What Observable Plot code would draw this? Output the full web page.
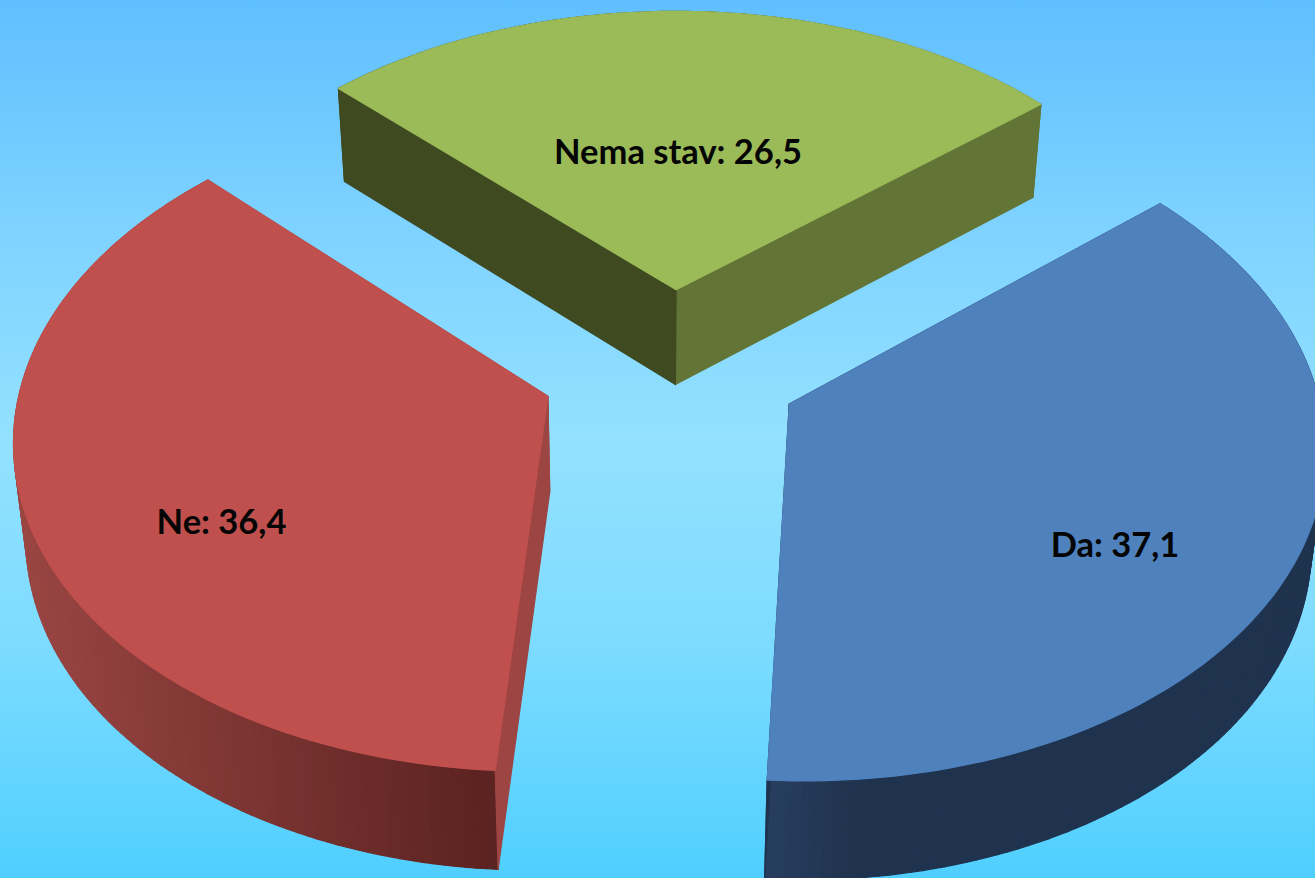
<!DOCTYPE html>
<html>
<head>
<meta charset="utf-8">
<script src="https://cdn.jsdelivr.net/npm/d3@7"></script>
<script src="https://cdn.jsdelivr.net/npm/@observablehq/plot@0.6"></script>
<style>
html,body{margin:0;padding:0;overflow:hidden;background:#60bfff}
svg{display:block}
</style>
</head>
<body>
<div id="chart"></div>
<script>
// Data
const categories = ["Da", "Ne", "Nema stav"];
const values = [37.1, 36.4, 26.5];

// Styling
const topColors = ["#4f81bd", "#c0504d", "#9bbb59"];
const startWallColors = ["#1f334e", "#9c4543", "#3f4a21"];
const endWallColors = ["#1f334e", "#9c4543", "#637536"];
const arcStops = [
  [[767, "#283e5e"], [860, "#1f334e"]],
  [[13, "#9a4643"], [497, "#5a2220"]],
  [[339, "#3f4a21"], [1041, "#637536"]]
];
const labelAnchors = [[1114.5, 545], [221, 522], [677.5, 152]];

// 3D pie camera model
const W = 1315, H = 878;
const cam = {x0: 670.6, y0: 367, a: 524, b: 326, p: 0.112, explode: 0.245};
const sliceNudgeU = [0.004, -0.004, 0];
const depth = {sx: 0.98, ox: 12.8, sy: 1.0088, oy: 92.2};
const project = (u, v) => {
  const d = 1 + cam.p * v;
  return [cam.x0 + cam.a * u / d, cam.y0 - cam.b * v / d];
};
const lower = ([x, y]) => [depth.sx * x + depth.ox, depth.sy * y + depth.oy];

const arcs = d3.pie().sort(null).startAngle(50 * Math.PI / 180).endAngle((50 + 360) * Math.PI / 180)(values);
const polygons = [];
const pushPoly = (id, color, pts) => pts.forEach(([x, y]) => polygons.push({id, color, x, y}));

arcs.forEach((arc, i) => {
  const mid = (arc.startAngle + arc.endAngle) / 2;
  const cu = cam.explode * Math.sin(mid) + sliceNudgeU[i], cv = cam.explode * Math.cos(mid);
  const n = 120;
  const rim = d3.range(n + 1).map(k => {
    const t = arc.startAngle + (arc.endAngle - arc.startAngle) * k / n;
    return project(cu + Math.sin(t), cv + Math.cos(t));
  });
  const apex = project(cu, cv);
  const [s0, s1] = arcStops[i];
  const shade = d3.scaleLinear().domain([s0[0], s1[0]]).range([s0[1], s1[1]]).clamp(true);
  // outer wall, one thin quad per step so the shading follows the rim
  for (let k = 0; k < n; k++) {
    const a = rim[k], b = rim[k + 1];
    pushPoly(`${i}-arc-${k}`, d3.color(shade((a[0] + b[0]) / 2)).formatHex(), [a, b, lower(b), lower(a)]);
  }
  // radial walls
  const first = rim[0], last = rim[n];
  pushPoly(`${i}-end`, endWallColors[i], [apex, last, lower(last), lower(apex)]);
  pushPoly(`${i}-start`, startWallColors[i], [apex, first, lower(first), lower(apex)]);
  // top face
  pushPoly(`${i}-top`, topColors[i], [apex, ...rim]);
});

const labels = categories.map((name, i) => ({
  text: `${name}: ${String(values[i]).replace(".", ",")}`,
  x: labelAnchors[i][0],
  y: labelAnchors[i][1]
}));

const plot = Plot.plot({
  width: W,
  height: H,
  margin: 0,
  x: {domain: [0, W], range: [0, W], axis: null},
  y: {domain: [0, H], range: [0, H], axis: null},
  color: {type: "identity"},
  style: {background: "linear-gradient(to bottom,#60bfff 0%,#7dd2ff 25%,#93e1ff 50%,#7fdcff 72%,#4fcfff 100%)"},
  marks: [
    Plot.line(polygons, {x: "x", y: "y", z: "id", fill: "color", stroke: "color", strokeWidth: 1.2, curve: "linear-closed"}),
    Plot.text(labels, {x: "x", y: "y", text: "text", fontFamily: "Lato", fontWeight: 700, fontSize: 34.5, fill: "#050505", textAnchor: "middle", lineAnchor: "middle"})
  ]
});
document.getElementById("chart").appendChild(plot);
</script>
</body>
</html>
